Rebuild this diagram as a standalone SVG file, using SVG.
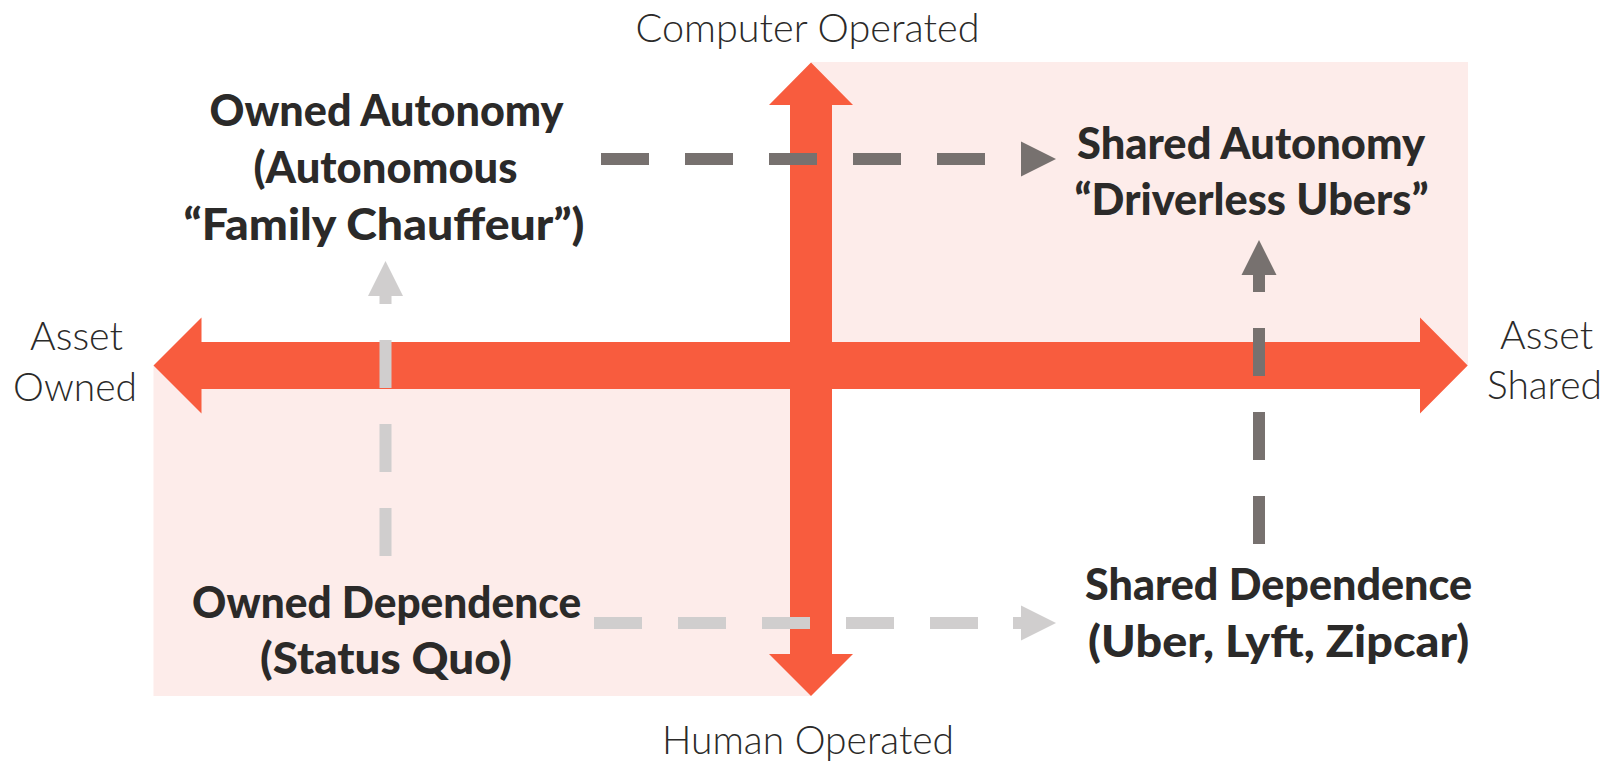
<svg xmlns="http://www.w3.org/2000/svg" width="1607" height="766" viewBox="0 0 1607 766">
  <style>
    .bg { fill: #ffffff; }
    .quad { fill: #FDECEA; }
    .axis { fill: #F85C3E; }
    .flow { fill: none; stroke-width: 12; stroke-dasharray: 48 36; }
    .dark { stroke: #77716F; }
    .light { stroke: #D0CECE; }
    .title { font-family: "Lato", "Liberation Sans", sans-serif; font-weight: 900; font-size: 43px; fill: #2B2A29; text-anchor: middle; }
    .axislabel { font-family: "Lato", "Liberation Sans", sans-serif; font-weight: 300; font-size: 39px; fill: #2B2A29; text-anchor: middle; }
  </style>
  <defs>
    <marker id="head-dark" markerUnits="userSpaceOnUse" markerWidth="36" markerHeight="36" refX="0" refY="17.5" orient="auto" overflow="visible">
      <path d="M0,0 L35,17.5 L0,35 Z" fill="#77716F"/>
    </marker>
    <marker id="head-light" markerUnits="userSpaceOnUse" markerWidth="36" markerHeight="36" refX="0" refY="17.5" orient="auto" overflow="visible">
      <path d="M0,0 L35,17.5 L0,35 Z" fill="#D0CECE"/>
    </marker>
  </defs>

  <rect class="bg" x="0" y="0" width="1607" height="766"/>

  <!-- shaded quadrants -->
  <g id="quadrants">
    <rect class="quad" x="811" y="62" width="657" height="303.5"/>
    <rect class="quad" x="153.5" y="365.5" width="657.5" height="330.5"/>
  </g>

  <!-- double-headed axes -->
  <g id="axes">
    <polygon class="axis" points="811,62.5 853,105 832,105 832,654 853,654 811,696 769,654 790,654 790,105 769,105"/>
    <polygon class="axis" points="153.5,365.5 201.5,317.5 201.5,342 1420,342 1420,317.5 1467.7,365.5 1420,413.5 1420,389 201.5,389 201.5,413.5"/>
  </g>

  <!-- dashed transitions between quadrants -->
  <g id="connectors">
    <line class="flow dark" x1="601" y1="159" x2="1021" y2="159" marker-end="url(#head-dark)"/>
    <line class="flow dark" x1="1259" y1="544" x2="1259" y2="275" marker-end="url(#head-dark)"/>
    <line class="flow light" x1="385.5" y1="556" x2="385.5" y2="296" marker-end="url(#head-light)"/>
    <line class="flow light" x1="594" y1="623" x2="1014" y2="623"/>
    <line class="flow light" x1="1013" y1="623" x2="1021" y2="623" stroke-dasharray="none" marker-end="url(#head-light)"/>
  </g>

  <!-- axis labels -->
  <g id="label-computer">
    <text class="axislabel" x="807.5" y="41.7" textLength="344" lengthAdjust="spacingAndGlyphs">Computer Operated</text>
  </g>
  <g id="label-human">
    <text class="axislabel" x="808" y="753.5" textLength="292" lengthAdjust="spacingAndGlyphs">Human Operated</text>
  </g>
  <g id="label-owned">
    <text class="axislabel" x="76.5" y="349.5" textLength="93" lengthAdjust="spacingAndGlyphs">Asset</text>
    <text class="axislabel" x="75" y="401" textLength="124" lengthAdjust="spacingAndGlyphs">Owned</text>
  </g>
  <g id="label-shared">
    <text class="axislabel" x="1546.6" y="348.5" textLength="93" lengthAdjust="spacingAndGlyphs">Asset</text>
    <text class="axislabel" x="1544.5" y="398.5" textLength="115" lengthAdjust="spacingAndGlyphs">Shared</text>
  </g>

  <!-- quadrant nodes -->
  <g id="owned-autonomy">
    <text class="title" x="386.5" y="125.5" textLength="354" lengthAdjust="spacingAndGlyphs">Owned Autonomy</text>
    <text class="title" x="385.5" y="182.5" textLength="264" lengthAdjust="spacingAndGlyphs">(Autonomous</text>
    <text class="title" x="384" y="240" textLength="401" lengthAdjust="spacingAndGlyphs">“Family Chauffeur”)</text>
  </g>
  <g id="shared-autonomy">
    <text class="title" x="1251" y="158.5" textLength="348" lengthAdjust="spacingAndGlyphs">Shared Autonomy</text>
    <text class="title" x="1251.5" y="215" textLength="354" lengthAdjust="spacingAndGlyphs">“Driverless Ubers”</text>
  </g>
  <g id="owned-dependence">
    <text class="title" x="386.6" y="617.5" textLength="389" lengthAdjust="spacingAndGlyphs">Owned Dependence</text>
    <text class="title" x="386" y="674" textLength="252" lengthAdjust="spacingAndGlyphs">(Status Quo)</text>
  </g>
  <g id="shared-dependence">
    <text class="title" x="1278.6" y="600" textLength="387" lengthAdjust="spacingAndGlyphs">Shared Dependence</text>
    <text class="title" x="1278.6" y="656.5" textLength="381" lengthAdjust="spacingAndGlyphs">(Uber, Lyft, Zipcar)</text>
  </g>
</svg>
